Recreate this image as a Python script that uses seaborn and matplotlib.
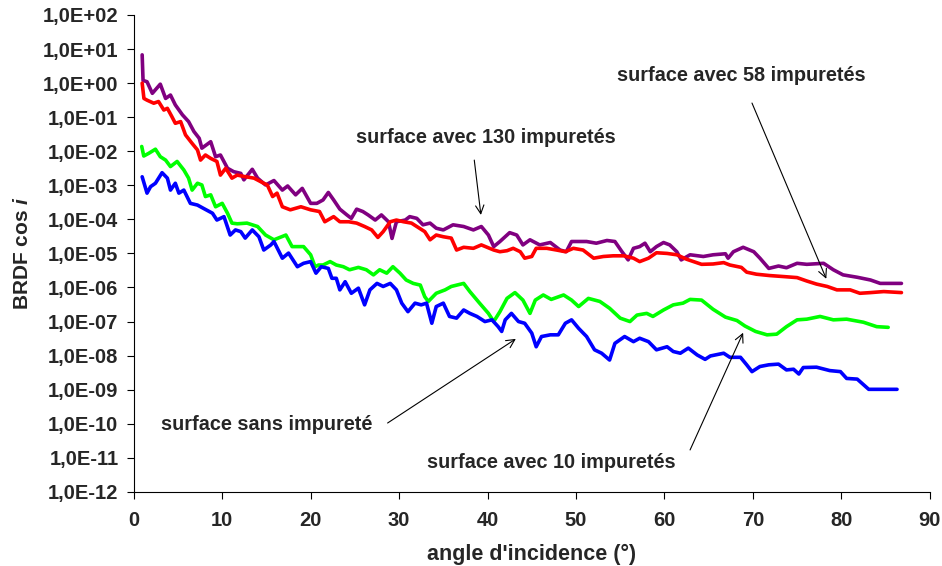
import numpy as np
import pandas as pd
import matplotlib
matplotlib.use("Agg")
import matplotlib.pyplot as plt
from matplotlib.ticker import FixedLocator, FuncFormatter, NullLocator
import seaborn as sns

# angle (deg) and log10(BRDF cos i)

# surface avec 130 impuretés (purple)
x_130 = [0.95, 1.05, 1.5, 2.1, 3.0, 3.6, 4.15, 4.7, 5.5, 6.2,
         6.8, 7.4, 7.7, 8.7, 9.25, 9.8, 10.6, 11.3, 12.1, 12.45,
         13.4, 14.0, 14.9, 15.85, 16.8, 17.4, 18.3, 19.05, 20.0, 20.7,
         21.4, 22.0, 22.6, 23.3, 24.1, 24.6, 25.2, 25.9, 26.5, 27.3,
         28.0, 28.8, 29.2, 29.7, 30.7, 31.2, 32.0, 32.7, 33.5, 34.2,
         35.0, 36.1, 37.3, 38.4, 39.3, 40.1, 40.7, 41.4, 42.5, 43.3,
         44.0, 44.8, 45.9, 47.1, 48.2, 48.9, 49.5, 50.4, 51.2, 52.3,
         53.5, 54.4, 55.2, 55.9, 56.5, 57.2, 57.8, 58.4, 59.1, 59.9,
         60.6, 61.4, 61.9, 62.9, 64.4, 65.5, 66.9, 67.2, 67.8, 68.9,
         70.1, 70.8, 71.8, 72.9, 73.8, 75.0, 76.1, 78.0, 79.1, 80.2,
         81.8, 83.3, 84.4, 85.5, 86.8]
log_130 = [0.83, 0.08, 0.04, -0.30, -0.03, -0.45, -0.35, -0.64, -0.93, -1.13,
           -1.42, -1.62, -1.91, -1.72, -2.16, -2.11, -2.50, -2.60, -2.65, -2.84,
           -2.53, -2.79, -2.99, -2.86, -3.14, -3.02, -3.28, -3.09, -3.53, -3.53,
           -3.43, -3.21, -3.43, -3.70, -3.87, -3.97, -3.70, -3.77, -3.87, -4.02,
           -3.87, -4.07, -4.56, -4.07, -4.02, -3.92, -3.97, -4.16, -4.11, -4.26,
           -4.31, -4.16, -4.21, -4.31, -4.21, -4.46, -4.80, -4.65, -4.39, -4.46,
           -4.75, -4.60, -4.75, -4.68, -4.90, -4.95, -4.65, -4.65, -4.65, -4.70,
           -4.62, -4.65, -4.95, -5.19, -4.85, -4.80, -4.70, -4.95, -4.80, -4.68,
           -4.75, -4.95, -5.19, -5.04, -5.09, -5.04, -5.01, -5.14, -4.95, -4.82,
           -4.95, -5.14, -5.44, -5.37, -5.42, -5.29, -5.32, -5.29, -5.48, -5.63,
           -5.70, -5.78, -5.88, -5.88, -5.88]

# surface avec 58 impuretés (red)
x_58 = [0.95, 1.15, 1.5, 2.26, 2.8, 3.4, 3.8, 4.3, 4.7, 5.3,
        5.85, 6.6, 7.2, 7.55, 8.1, 8.7, 9.4, 9.8, 10.4, 11.1,
        11.7, 12.45, 13.6, 14.7, 15.1, 15.7, 16.2, 16.8, 17.7, 18.9,
        20.0, 21.0, 21.6, 22.6, 23.3, 24.3, 25.2, 26.1, 26.9, 27.6,
        28.2, 29.0, 29.7, 30.5, 31.4, 32.0, 32.9, 33.5, 34.2, 35.0,
        35.9, 36.5, 37.3, 38.4, 39.3, 40.7, 41.4, 42.2, 42.9, 43.7,
        44.2, 45.0, 45.5, 46.7, 47.8, 48.8, 49.7, 50.8, 52.0, 53.1,
        54.2, 55.4, 56.5, 57.2, 58.2, 59.1, 60.3, 61.4, 62.5, 64.2,
        65.5, 66.7, 67.4, 68.7, 69.3, 70.4, 71.9, 73.5, 75.0, 76.1,
        77.2, 78.4, 79.5, 81.0, 82.1, 83.3, 84.8, 86.8]
log_58 = [0.0, -0.45, -0.50, -0.59, -0.54, -0.79, -0.74, -0.98, -1.18, -1.13,
          -1.52, -1.77, -1.96, -2.26, -2.11, -2.21, -2.30, -2.70, -2.50, -2.79,
          -2.70, -2.74, -2.79, -2.94, -2.99, -3.33, -3.23, -3.63, -3.72, -3.63,
          -3.72, -3.77, -4.07, -3.92, -4.07, -4.07, -4.11, -4.21, -4.31, -4.53,
          -4.36, -4.07, -4.02, -4.07, -4.11, -4.21, -4.36, -4.60, -4.46, -4.51,
          -4.55, -4.90, -4.82, -4.85, -4.75, -4.90, -4.95, -4.92, -4.85, -4.95,
          -5.14, -5.09, -4.85, -4.85, -4.90, -4.95, -4.85, -4.90, -5.14, -5.09,
          -5.07, -5.07, -5.14, -5.24, -5.14, -4.98, -5.00, -5.04, -5.17, -5.32,
          -5.31, -5.27, -5.34, -5.41, -5.55, -5.61, -5.65, -5.68, -5.71, -5.81,
          -5.90, -5.97, -6.07, -6.07, -6.17, -6.15, -6.12, -6.15]

# surface avec 10 impuretés (green)
x_10 = [0.9, 1.13, 1.7, 2.45, 3.0, 3.6, 4.15, 4.9, 5.66, 6.2,
        6.6, 7.2, 7.7, 8.1, 8.7, 9.25, 10.0, 10.6, 11.1, 11.7,
        12.8, 14.0, 14.9, 15.85, 17.2, 17.9, 19.2, 20.0, 20.5, 20.9,
        21.4, 22.2, 22.9, 23.7, 24.4, 25.4, 26.3, 27.1, 27.8, 28.6,
        29.3, 30.1, 30.8, 31.6, 32.4, 32.9, 33.3, 34.2, 35.2, 35.9,
        37.3, 38.0, 39.1, 40.1, 40.7, 41.4, 42.2, 43.1, 44.0, 44.8,
        45.4, 46.3, 47.2, 48.6, 49.5, 50.3, 51.4, 52.7, 53.8, 55.0,
        56.1, 56.9, 58.0, 58.7, 59.9, 61.0, 62.1, 62.9, 64.2, 65.5,
        66.9, 68.2, 69.1, 70.3, 71.6, 72.7, 73.8, 75.0, 76.1, 77.6,
        79.1, 80.6, 82.5, 84.0, 85.3]
log_10 = [-1.86, -2.14, -2.06, -1.94, -2.16, -2.26, -2.45, -2.30, -2.55, -2.79,
          -3.14, -2.94, -2.99, -3.33, -3.28, -3.63, -3.53, -3.82, -4.11, -4.13,
          -4.11, -4.21, -4.46, -4.60, -4.46, -4.80, -4.80, -5.04, -5.39, -5.34,
          -5.34, -5.24, -5.34, -5.39, -5.48, -5.41, -5.48, -5.63, -5.48, -5.58,
          -5.39, -5.58, -5.78, -5.88, -5.93, -6.27, -6.41, -6.17, -6.07, -5.97,
          -5.88, -6.12, -6.46, -6.76, -7.00, -6.71, -6.32, -6.15, -6.37, -6.76,
          -6.37, -6.22, -6.35, -6.22, -6.37, -6.56, -6.32, -6.41, -6.61, -6.90,
          -7.00, -6.81, -6.76, -6.85, -6.66, -6.51, -6.46, -6.35, -6.37, -6.64,
          -6.87, -6.97, -7.13, -7.29, -7.39, -7.37, -7.15, -6.95, -6.93, -6.85,
          -6.95, -6.93, -7.02, -7.15, -7.17]

# surface sans impureté (blue)
x_0 = [0.95, 1.5, 1.9, 2.45, 3.2, 3.8, 4.15, 4.7, 5.1, 5.66,
       6.4, 7.2, 7.9, 8.9, 9.4, 10.2, 10.9, 11.5, 12.1, 12.6,
       13.4, 14.15, 14.7, 15.5, 15.85, 16.8, 17.5, 18.5, 19.2, 20.0,
       20.6, 21.2, 22.0, 22.4, 22.9, 23.3, 23.9, 24.6, 25.4, 26.1,
       26.7, 27.5, 28.2, 29.0, 29.7, 30.3, 31.0, 31.8, 32.5, 33.1,
       33.7, 34.2, 35.0, 35.7, 36.5, 37.3, 38.0, 38.8, 39.7, 40.5,
       41.2, 41.6, 42.0, 42.7, 43.5, 44.2, 45.0, 45.5, 46.1, 47.1,
       48.0, 48.8, 49.5, 50.3, 51.2, 52.1, 52.9, 53.8, 54.4, 55.5,
       56.5, 57.2, 58.2, 59.1, 60.3, 61.0, 61.8, 62.7, 63.7, 64.6,
       65.2, 66.7, 67.4, 68.6, 69.3, 69.9, 70.8, 71.8, 72.9, 73.8,
       74.6, 75.2, 75.7, 77.2, 78.7, 79.9, 80.6, 81.8, 83.1, 84.4,
       86.3]
log_0 = [-2.75, -3.23, -3.04, -2.94, -2.63, -2.79, -3.14, -2.94, -3.23, -3.14,
         -3.53, -3.58, -3.68, -3.82, -4.02, -3.92, -4.46, -4.31, -4.36, -4.55,
         -4.31, -4.51, -4.90, -4.75, -4.65, -5.14, -4.99, -5.39, -5.29, -5.24,
         -5.58, -5.39, -5.44, -5.73, -5.73, -6.07, -5.83, -6.17, -6.02, -6.51,
         -6.07, -5.88, -5.97, -5.88, -6.07, -6.46, -6.71, -6.46, -6.51, -6.46,
         -7.05, -6.56, -6.46, -6.85, -6.90, -6.66, -6.76, -6.85, -7.00, -6.95,
         -7.15, -7.29, -6.95, -6.76, -7.00, -7.05, -7.34, -7.74, -7.44, -7.39,
         -7.39, -7.05, -6.95, -7.20, -7.44, -7.83, -7.93, -8.13, -7.64, -7.44,
         -7.59, -7.49, -7.59, -7.83, -7.74, -7.88, -7.93, -7.78, -7.98, -8.11,
         -8.01, -7.93, -8.05, -8.05, -8.27, -8.47, -8.32, -8.27, -8.25, -8.42,
         -8.40, -8.54, -8.35, -8.34, -8.44, -8.47, -8.67, -8.69, -8.99, -8.99,
         -8.99]

series = [("130", x_130, log_130, "#800080"),
          ("58", x_58, log_58, "#ff0000"),
          ("10", x_10, log_10, "#00ff00"),
          ("0", x_0, log_0, "#0000ff")]

y_exponents = list(range(-12, 3))
x_ticks = list(range(0, 91, 10))

# annotation: text, text pos, arrow tail, arrow head  (angle, BRDF)
notes = [("surface avec 130 impuretés", (39.8, 2.6e-2), (38.5, 5.5e-3), (39.25, 1.35e-4)),
         ("surface avec 58 impuretés", (68.7, 1.7), (69.9, 0.26), (78.3, 1.8e-6)),
         ("surface sans impureté", (15.05, 9.3e-11), (28.7, 1.05e-10), (43.2, 3.1e-8)),
         ("surface avec 10 impuretés", (47.2, 7.1e-12), (62.9, 1.7e-11), (68.9, 4.7e-8))]

sns.set_style("ticks")
plt.rcParams["font.family"] = ["Liberation Sans", "DejaVu Sans"]
plt.rcParams["font.weight"] = "bold"
plt.rcParams["mathtext.fontset"] = "custom"
plt.rcParams["mathtext.rm"] = "Liberation Sans:bold"
plt.rcParams["mathtext.it"] = "Liberation Sans:italic:bold"

fig = plt.figure(figsize=(9.42, 5.66), dpi=100)
ax = fig.add_axes([0.142, 0.131, 0.845, 0.8425])

for name, xs, ls, col in series:
    df = pd.DataFrame({"angle": xs, "brdf": 10.0 ** np.array(ls)})
    sns.lineplot(data=df, x="angle", y="brdf", color=col, lw=2.6,
                 sort=False, estimator=None, ax=ax)

ax.set_yscale("log")
ax.set_ylim(1e-12, 1e2)
ax.set_xlim(0, 90)
ax.yaxis.set_major_locator(FixedLocator([10.0 ** e for e in y_exponents]))
ax.yaxis.set_minor_locator(NullLocator())
ax.yaxis.set_major_formatter(FuncFormatter(
    lambda v, p: "1,0E" + format(int(round(np.log10(v))), "+03d")))
ax.set_xticks(x_ticks)

ax.tick_params(axis="y", length=5, width=0.8, pad=6, labelsize=14.5, color="black")
ax.tick_params(axis="x", length=5, width=0.8, pad=9, labelsize=14.5, color="black")
for s in ["left", "bottom"]:
    ax.spines[s].set_color("black")
    ax.spines[s].set_linewidth(0.8)
sns.despine(ax=ax)

ax.set_xlabel("angle d'incidence (°)", fontsize=15.5, fontweight="bold", labelpad=10)
ax.set_ylabel("BRDF cos $\\mathit{i}$", fontsize=15, fontweight="bold", labelpad=8)

for txt, tpos, tail, head in notes:
    ax.text(tpos[0], tpos[1], txt, fontsize=14.3, fontweight="bold",
            ha="center", va="center")
    ax.annotate("", xy=head, xytext=tail,
                arrowprops=dict(arrowstyle="->,head_length=0.6,head_width=0.3",
                                color="black", lw=0.8, shrinkA=0, shrinkB=0))

fig.savefig("out.png", dpi=100)
